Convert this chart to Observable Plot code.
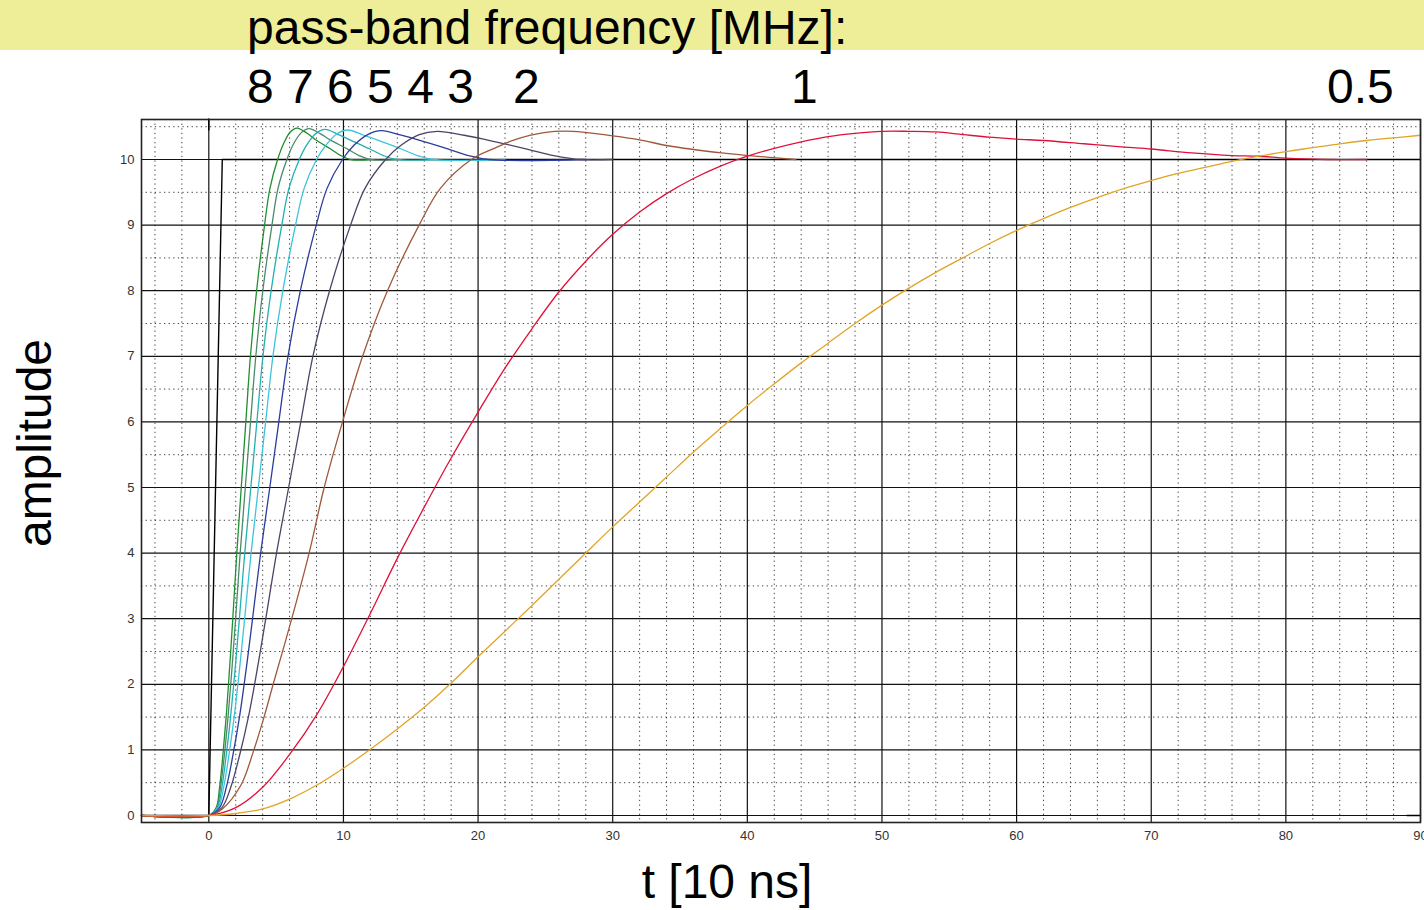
<!DOCTYPE html>
<html><head><meta charset="utf-8">
<script src="https://cdn.jsdelivr.net/npm/d3@7"></script>
<script src="https://cdn.jsdelivr.net/npm/@observablehq/plot@0.6"></script>
<style>
html,body{margin:0;padding:0;background:#fff;}
#page{position:relative;width:1424px;height:910px;overflow:hidden;font-family:"Liberation Sans",Arial,sans-serif;}
#band{position:absolute;left:0;top:0;width:1424px;height:50px;background:#eeee99;}
.big{position:absolute;font-size:48px;line-height:48px;color:#000;white-space:pre;}
#chart{position:absolute;left:0;top:110px;}
</style></head><body>
<div id="page">
  <div id="band"></div>
  <div class="big" style="left:247px;top:4px">pass-band frequency [MHz]:</div>
  <div id="freqs"></div>
  <div id="chart"></div>
</div>
<script>
// ---- data ----
const seriesNames = ["8", "7", "6", "5", "4", "3", "2", "1", "0.5"];
const seriesColors = ["#1f8f2f", "#4a8a6a", "#22b0b0", "#3cc4dc", "#2a3c9c", "#4c4466", "#a0583a", "#e01038", "#e0a424"];

const t8 = [-5,0,0.55,0.8,1.05,1.3,1.55,1.78,2.08,2.41,2.75,3.09,3.55,4.14,4.54,5.11,5.55,6.05,6.55,7.3,7.93,9.05,9.8,10.55,12];
const v8 = [0,0,0.12,0.43,0.93,1.53,2.27,3,4,5,6,7,8,9,9.56,10,10.24,10.42,10.48,10.4,10.3,10.16,10.06,10.0,10];
const t7 = [-5,0,0.59,0.87,1.16,1.44,1.73,1.99,2.33,2.71,3.1,3.49,4.01,4.69,5.14,5.8,6.3,6.87,7.44,8.3,9.01,10.3,11.16,12.01,14];
const v7 = [0,0,0.12,0.43,0.93,1.53,2.27,3,4,5,6,7,8,9,9.56,10,10.24,10.41,10.47,10.39,10.3,10.16,10.06,10.0,10];
const t6 = [-5,0,0.63,0.97,1.3,1.63,1.97,2.27,2.67,3.12,3.57,4.02,4.63,5.42,5.95,6.72,7.3,7.97,8.63,9.63,10.47,11.97,12.97,13.97,17];
const v6 = [0,0,0.12,0.43,0.93,1.53,2.27,3,4,5,6,7,8,9,9.56,10,10.23,10.4,10.46,10.38,10.3,10.16,10.06,10.0,10];
const t5 = [-5,0,0.7,1.1,1.5,1.9,2.3,2.66,3.14,3.68,4.22,4.76,5.5,6.44,7.08,8.0,8.7,9.5,10.3,11.5,12.5,14.3,15.5,16.7,22];
const v5 = [0,0,0.12,0.43,0.93,1.53,2.27,3,4,5,6,7,8,9,9.56,10,10.22,10.39,10.45,10.37,10.3,10.16,10.06,10.0,10];
const t4 = [-5,0,0.8,1.3,1.8,2.3,2.8,3.25,3.85,4.53,5.2,5.88,6.8,7.98,8.78,9.93,10.8,11.8,12.8,14.3,15.55,17.8,19.3,20.8,28];
const v4 = [0,0,0.12,0.43,0.93,1.53,2.27,3,4,5,6,7,8,9,9.56,10,10.22,10.38,10.44,10.37,10.3,10.16,10.06,10.0,10];
const t3 = [-5,0,0.97,1.63,2.3,2.97,3.63,4.23,5.03,5.93,6.83,7.73,8.97,10.53,11.6,13.13,14.3,15.63,16.97,18.97,20.63,23.63,25.63,27.63,30];
const v3 = [0,0,0.12,0.43,0.93,1.53,2.27,3,4,5,6,7,8,9,9.56,10,10.22,10.38,10.43,10.37,10.3,10.16,10.06,10.0,10];
const t2 = [-5,0,1,2.38,3.3,4.1,4.78,6.16,7.45,8.57,9.93,11.42,13.27,15.62,17.2,19.5,21.2,22.7,24.9,27,30,32,34.1,38.1,40.1,43.6];
const v2 = [0,0,0.1,0.46,0.97,1.5,2,3,4,5,6,7,8,9,9.56,10,10.17,10.3,10.41,10.43,10.36,10.3,10.21,10.1,10.06,10.0];
const t1 = [-5,0,2,4,6,8,10,12,14,16,18,20,22,24,26,28,30,32,34,36,38,40,42,44,46,48,50,52,54,56,58,60,62,65,68,70,73,76,78,80,83,86];
const v1 = [0,0,0.12,0.43,0.93,1.53,2.27,3.08,3.92,4.7,5.45,6.15,6.82,7.42,7.98,8.45,8.86,9.2,9.48,9.71,9.9,10.05,10.17,10.27,10.35,10.4,10.43,10.43,10.42,10.38,10.34,10.31,10.29,10.24,10.19,10.16,10.1,10.06,10.05,10.02,10.0,10.0];
const t05 = [-5,0,2,4,6,8,10,12,14,16,18,20,22,24,26,28,30,32,34,36,38,40,42,44,46,48,50,52,54,56,58,60,62,64,66,68,70,72,74,76,78,80,82,84,86,88,90];
const v05 = [0,0,0.03,0.1,0.25,0.46,0.72,1.01,1.32,1.65,2.02,2.42,2.81,3.2,3.6,4.0,4.4,4.78,5.16,5.54,5.9,6.25,6.58,6.9,7.2,7.5,7.78,8.04,8.28,8.5,8.72,8.92,9.1,9.27,9.42,9.56,9.68,9.79,9.88,9.97,10.05,10.12,10.18,10.24,10.29,10.33,10.37];

// input step (black) and the two small black markers
const inputT = [-5, 0, 1, 90];
const inputV = [0, 0, 10, 10];
const markTopT = [0, 0];
const markTopV = [10.62, 10.45];
const markEndT = [89, 90];
const markEndV = [0, 0];

// axis ticks
const xTicks = [0,10,20,30,40,50,60,70,80,90];
const yTicks = [0,1,2,3,4,5,6,7,8,9,10];
const freqLabels = ["8 7 6 5 4 3", "2", "1", "0.5"];

// ---- build ----
const curveT = [t8,t7,t6,t5,t4,t3,t2,t1,t05];
const curveV = [v8,v7,v6,v5,v4,v3,v2,v1,v05];
const rows = seriesNames.flatMap((name, k) => curveT[k].map((t, i) => ({f: name, t, v: curveV[k][i]})));
const toRows = (T, V) => T.map((t, i) => ({t, v: V[i]}));

const xMinor = d3.range(-4, 90, 2).filter(d => d % 10 !== 0);
const yMinor = d3.range(0.5, 10.6, 1);

const chart = Plot.plot({
  width: 1424, height: 800,
  marginTop: 9, marginBottom: 88, marginLeft: 141, marginRight: 4,
  x: {domain: [-5, 90], ticks: xTicks, tickSize: 0, tickPadding: 8, label: null},
  y: {domain: [-0.107, 10.61], ticks: yTicks, tickSize: 0, tickPadding: 7, label: null},
  color: {domain: seriesNames, range: seriesColors},
  style: {fontFamily: "'Liberation Sans', Arial, sans-serif", fontSize: "13px", color: "#333", background: "transparent", overflow: "visible"},
  marks: [
    Plot.gridX(xMinor, {stroke: "#000", strokeOpacity: 0.75, strokeDasharray: "1.3,3.3"}),
    Plot.gridY(yMinor, {stroke: "#000", strokeOpacity: 0.75, strokeDasharray: "1.3,3.3"}),
    Plot.gridX(xTicks, {stroke: "#111", strokeOpacity: 1, strokeWidth: 1.2}),
    Plot.gridY(yTicks, {stroke: "#111", strokeOpacity: 1, strokeWidth: 1.2}),
    Plot.line(toRows(inputT, inputV), {x: "t", y: "v", stroke: "#000", strokeWidth: 1.4}),
    Plot.line(toRows(markTopT, markTopV), {x: "t", y: "v", stroke: "#000", strokeWidth: 1.4}),
    Plot.line(toRows(markEndT, markEndV), {x: "t", y: "v", stroke: "#000", strokeWidth: 1.4}),
    Plot.line(rows, {x: "t", y: "v", z: "f", stroke: "f", strokeWidth: 1.3, curve: "catmull-rom"}),
    Plot.frame({stroke: "#222", strokeWidth: 1.6}),
    Plot.text(["t [10 ns]"], {frameAnchor: "bottom", dx: -54, dy: 60, fontSize: 48, fill: "#000", lineAnchor: "middle", textAnchor: "middle"}),
    Plot.text(["amplitude"], {frameAnchor: "left", dx: -106, dy: -28, rotate: -90, fontSize: 48, fill: "#000", textAnchor: "middle", lineAnchor: "middle"})
  ]
});
document.getElementById("chart").appendChild(chart);

// frequency labels row
const freqLeft = [247, 513, 791, 1327];
const freqs = document.getElementById("freqs");
freqLabels.forEach((s, i) => {
  const d = document.createElement("div");
  d.className = "big";
  d.style.left = freqLeft[i] + "px";
  d.style.top = "63px";
  d.textContent = s;
  freqs.appendChild(d);
});
</script>
</body></html>
